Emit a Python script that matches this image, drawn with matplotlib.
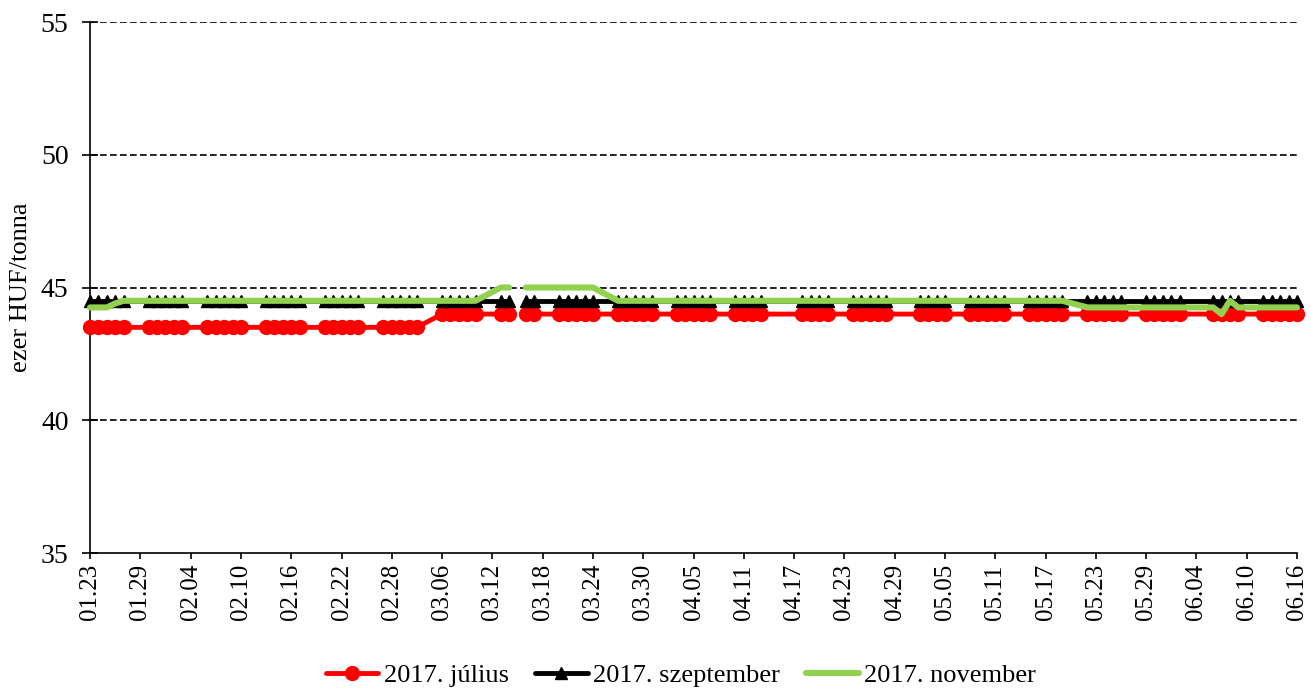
import numpy as np
import pandas as pd
import matplotlib
matplotlib.use("Agg")
import matplotlib.pyplot as plt

plt.rcParams['font.family'] = ['Liberation Serif', 'DejaVu Serif']

# trading days (Hungarian holidays removed; 03.15 kept as a blank day)
holidays = ['2017-04-14', '2017-04-17', '2017-05-01', '2017-06-05']
days = pd.bdate_range('2017-01-23', '2017-06-16')
days = days[~days.isin(pd.to_datetime(holidays))]

nan = np.nan
# ezer HUF/tonna, one row per week
julius = [
    43.5, 43.5, 43.5, 43.5, 43.5,   # 01.23-01.27
    43.5, 43.5, 43.5, 43.5, 43.5,   # 01.30-02.03
    43.5, 43.5, 43.5, 43.5, 43.5,   # 02.06-02.10
    43.5, 43.5, 43.5, 43.5, 43.5,   # 02.13-02.17
    43.5, 43.5, 43.5, 43.5, 43.5,   # 02.20-02.24
    43.5, 43.5, 43.5, 43.5, 43.5,   # 02.27-03.03
    44.0, 44.0, 44.0, 44.0, 44.0,   # 03.06-03.10
    44.0, 44.0, nan, 44.0, 44.0,    # 03.13-03.17
    44.0, 44.0, 44.0, 44.0, 44.0,   # 03.20-03.24
    44.0, 44.0, 44.0, 44.0, 44.0,   # 03.27-03.31
    44.0, 44.0, 44.0, 44.0, 44.0,   # 04.03-04.07
    44.0, 44.0, 44.0, 44.0,         # 04.10-04.13
    44.0, 44.0, 44.0, 44.0,         # 04.18-04.21
    44.0, 44.0, 44.0, 44.0, 44.0,   # 04.24-04.28
    44.0, 44.0, 44.0, 44.0,         # 05.02-05.05
    44.0, 44.0, 44.0, 44.0, 44.0,   # 05.08-05.12
    44.0, 44.0, 44.0, 44.0, 44.0,   # 05.15-05.19
    44.0, 44.0, 44.0, 44.0, 44.0,   # 05.22-05.26
    44.0, 44.0, 44.0, 44.0, 44.0,   # 05.29-06.02
    44.0, 44.0, 44.0, 44.0,         # 06.06-06.09
    44.0, 44.0, 44.0, 44.0, 44.0,   # 06.12-06.16
]
szeptember = [
    44.5, 44.5, 44.5, 44.5, 44.5,
    44.5, 44.5, 44.5, 44.5, 44.5,
    44.5, 44.5, 44.5, 44.5, 44.5,
    44.5, 44.5, 44.5, 44.5, 44.5,
    44.5, 44.5, 44.5, 44.5, 44.5,
    44.5, 44.5, 44.5, 44.5, 44.5,
    44.5, 44.5, 44.5, 44.5, 44.5,
    44.5, 44.5, nan, 44.5, 44.5,
    44.5, 44.5, 44.5, 44.5, 44.5,
    44.5, 44.5, 44.5, 44.5, 44.5,
    44.5, 44.5, 44.5, 44.5, 44.5,
    44.5, 44.5, 44.5, 44.5,
    44.5, 44.5, 44.5, 44.5,
    44.5, 44.5, 44.5, 44.5, 44.5,
    44.5, 44.5, 44.5, 44.5,
    44.5, 44.5, 44.5, 44.5, 44.5,
    44.5, 44.5, 44.5, 44.5, 44.5,
    44.5, 44.5, 44.5, 44.5, 44.5,
    44.5, 44.5, 44.5, 44.5, 44.5,
    44.5, 44.5, 44.5, 44.5,
    44.5, 44.5, 44.5, 44.5, 44.5,
]
november = [
    44.25, 44.25, 44.25, 44.4, 44.5,
    44.5, 44.5, 44.5, 44.5, 44.5,
    44.5, 44.5, 44.5, 44.5, 44.5,
    44.5, 44.5, 44.5, 44.5, 44.5,
    44.5, 44.5, 44.5, 44.5, 44.5,
    44.5, 44.5, 44.5, 44.5, 44.5,
    44.5, 44.5, 44.5, 44.5, 44.5,
    45.0, 45.0, nan, 45.0, 45.0,
    45.0, 45.0, 45.0, 45.0, 45.0,
    44.5, 44.5, 44.5, 44.5, 44.5,
    44.5, 44.5, 44.5, 44.5, 44.5,
    44.5, 44.5, 44.5, 44.5,
    44.5, 44.5, 44.5, 44.5,
    44.5, 44.5, 44.5, 44.5, 44.5,
    44.5, 44.5, 44.5, 44.5,
    44.5, 44.5, 44.5, 44.5, 44.5,
    44.5, 44.5, 44.5, 44.5, 44.5,
    44.25, 44.25, 44.25, 44.25, 44.25,
    44.25, 44.25, 44.25, 44.25, 44.25,
    44.25, 44.0, 44.5, 44.25,
    44.25, 44.25, 44.25, 44.25, 44.25,
]

tick_labels = ['01.23', '01.29', '02.04', '02.10', '02.16', '02.22', '02.28',
               '03.06', '03.12', '03.18', '03.24', '03.30', '04.05', '04.11',
               '04.17', '04.23', '04.29', '05.05', '05.11', '05.17', '05.23',
               '05.29', '06.04', '06.10', '06.16']
tick_dates = pd.to_datetime(['2017.' + t for t in tick_labels], format='%Y.%m.%d')

fig = plt.figure(figsize=(13.11, 6.88), dpi=100)
ax = fig.add_axes([0.0687, 0.1962, 0.9206, 0.7718])

ax.plot(days, julius, color='#FF0000', lw=3.5, marker='o', markersize=10,
        solid_capstyle='round', solid_joinstyle='round', label='2017. július',
        zorder=3, clip_on=False)
ax.plot(days, szeptember, color='black', lw=3.5, marker='^', markersize=9,
        solid_capstyle='round', solid_joinstyle='round', label='2017. szeptember',
        zorder=4, clip_on=False)
ax.plot(days, november, color='#92D050', lw=4.4,
        solid_capstyle='round', solid_joinstyle='round', label='2017. november',
        zorder=5, clip_on=False)

ax.set_ylim(35, 55)
ax.set_yticks([35, 40, 45, 50, 55])
for yv in [40, 45, 50, 55]:
    ax.axhline(yv, color='black', lw=1.2, dashes=(4, 2), zorder=1)

ax.set_xlim(tick_dates[0], tick_dates[-1])
ax.set_xticks(tick_dates)
ax.set_xticklabels(tick_labels, rotation=90, fontsize=18)
ax.tick_params(axis='x', direction='out', length=4, width=1.2, pad=4)
ax.tick_params(axis='y', direction='inout', length=11, width=1.2, pad=10, labelsize=20)

for s in ['top', 'right']:
    ax.spines[s].set_visible(False)
for s in ['left', 'bottom']:
    ax.spines[s].set_linewidth(1.2)

ax.set_ylabel('ezer HUF/tonna', fontsize=19, labelpad=6)

fig.legend(loc='center', bbox_to_anchor=(681 / 1311, 1 - 675 / 688), ncol=3,
           frameon=False, fontsize=19, handlelength=2.0, handletextpad=0.2,
           columnspacing=1.0)

fig.savefig('out.png', dpi=100)
